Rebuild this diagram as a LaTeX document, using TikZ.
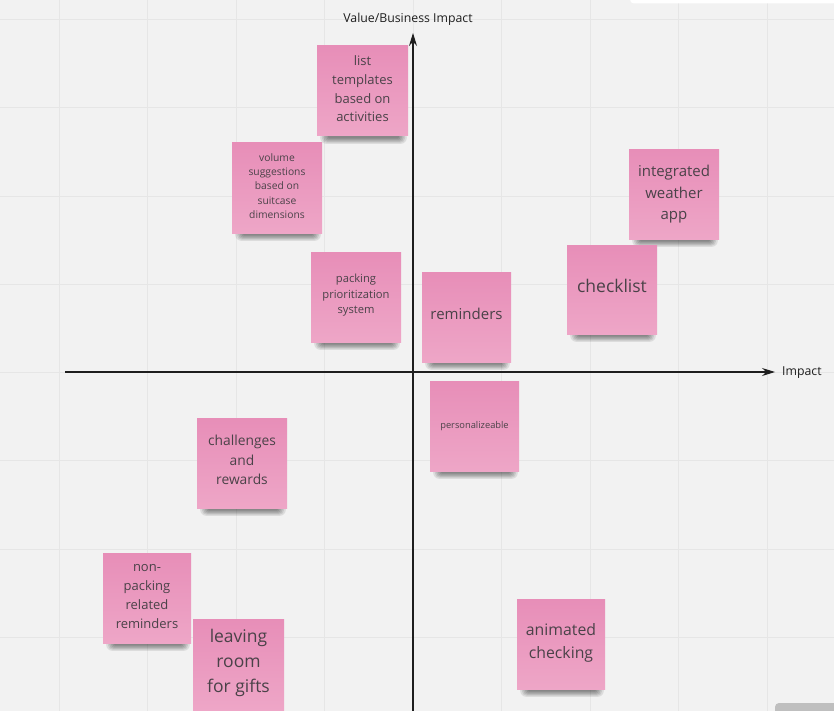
\documentclass[tikz,border=0pt]{standalone}
\usepackage{fontspec}
\newfontfamily\osans{Open Sans}
\usetikzlibrary{arrows.meta}
\pgfdeclarelayer{bottom}
\pgfdeclarelayer{shadow}
\pgfsetlayers{bottom,shadow,main}
\definecolor{bg}{HTML}{F2F2F2}
\definecolor{gridc}{HTML}{E6E6E6}
\definecolor{notetop}{HTML}{E78EB8}
\definecolor{notebot}{HTML}{EEA6C7}
\definecolor{notetext}{HTML}{4A4248}
\definecolor{axisc}{HTML}{1E1E1E}
\tikzset{
  stickynote/.style={rectangle, inner sep=0pt, top color=notetop, bottom color=notebot},
  notelabel/.style={inner sep=0pt, text=notetext, align=center},
  axisline/.style={draw=axisc, line width=1.1pt, -{Stealth[length=13pt,width=8pt]}},
  axislabel/.style={text=axisc, font=\osans\fontsize{12.3}{15}\selectfont, inner sep=0pt},
}
\newcommand\fs[2]{\osans\fontsize{#1}{#2}\selectfont}
\begin{document}
\begin{tikzpicture}[x=1pt,y=-1pt]
\useasboundingbox (0,0) rectangle (834,711);
\begin{pgfonlayer}{bottom}
\fill[bg] (0,0) rectangle (834,711);
\foreach \gx in {59,147.5,236,324.5,413,501.5,590,678.5,767}
  \draw[gridc, line width=0.8pt] (\gx,0) -- (\gx,711);
\foreach \gy in {19,107.5,196,284.5,372,460.5,549,637.5}
  \draw[gridc, line width=0.8pt] (0,\gy) -- (834,\gy);
\fill[white, rounded corners=4pt] (630,-6) rectangle (840,3.5);
\fill[black!25, rounded corners=4pt] (775,703) rectangle (840,716);
\end{pgfonlayer}

% axes
\coordinate (ybot) at (413,711);
\coordinate (ytop) at (413,33);
\coordinate (xleft) at (65,372);
\coordinate (xright) at (775,372);
\draw[axisline] (ybot) -- (ytop);
\draw[axisline] (xleft) -- (xright);
\node[axislabel, anchor=center] (ylab) at (408,19) {Value/Business Impact};
\node[axislabel, anchor=west] (xlab) at (782,372.5) {Impact};

% sticky notes
\node[stickynote, minimum width=91pt, minimum height=90pt] (lt) at (362.5,91) {};
\node[notelabel, font=\fs{13}{18.6}] (lt-t) at ([yshift=2pt]lt.center) {list\\templates\\based on\\activities};
\node[stickynote, minimum width=90pt, minimum height=90pt] (vs) at (277,188) {};
\node[notelabel, font=\fs{10.3}{14.3}] (vs-t) at ([yshift=2pt]vs.center) {volume\\suggestions\\based on\\suitcase\\dimensions};
\node[stickynote, minimum width=90pt, minimum height=89pt] (iw) at (674,194.5) {};
\node[notelabel, font=\fs{15}{21.5}] (iw-t) at ([yshift=0pt]iw.center) {integrated\\weather\\app};
\node[stickynote, minimum width=90pt, minimum height=89pt] (cl) at (612,289.5) {};
\node[notelabel, font=\fs{17.5}{22}] (cl-t) at ([yshift=3.5pt]cl.center) {checklist};
\node[stickynote, minimum width=90pt, minimum height=90pt] (pp) at (356,297) {};
\node[notelabel, font=\fs{11.2}{15.5}] (pp-t) at ([yshift=1.5pt]pp.center) {packing\\prioritization\\system};
\node[stickynote, minimum width=89pt, minimum height=90pt] (rm) at (466.5,317) {};
\node[notelabel, font=\fs{15}{20}] (rm-t) at ([yshift=3pt]rm.center) {reminders};
\node[stickynote, minimum width=89pt, minimum height=90pt] (pz) at (474.5,426) {};
\node[notelabel, font=\fs{9.3}{12}] (pz-t) at ([yshift=0pt]pz.center) {personalizeable};
\node[stickynote, minimum width=90pt, minimum height=90pt] (cr) at (242,463) {};
\node[notelabel, font=\fs{13.8}{19.5}] (cr-t) at ([yshift=3pt]cr.center) {challenges\\and\\rewards};
\node[stickynote, minimum width=88pt, minimum height=90pt] (np) at (147,598) {};
\node[notelabel, font=\fs{13}{19}] (np-t) at ([yshift=1pt]np.center) {non-\\packing\\related\\reminders};
\node[stickynote, minimum width=91pt, minimum height=91pt] (lr) at (238.5,664.5) {};
\node[notelabel, font=\fs{17.5}{25}] (lr-t) at ([yshift=2pt]lr.center) {leaving\\room\\for gifts};
\node[stickynote, minimum width=88pt, minimum height=90pt] (ac) at (561,644) {};
\node[notelabel, font=\fs{15.8}{23}] (ac-t) at ([yshift=1pt]ac.center) {animated\\checking};

% shadows
\begin{pgfonlayer}{shadow}
\foreach \n in {lt,vs,iw,cl,pp,rm,pz,cr,np,lr,ac}{
  \foreach \k in {1,...,6}{
    \fill[black, opacity=0.09, rounded corners=\k pt]
      ([xshift={13pt-1.6pt*\k}, yshift={-1pt-1.1pt*\k}]\n.south west)
      rectangle ([xshift={-(11pt-1.6pt*\k)}, yshift={1pt+0.6pt*\k}]\n.south east);
  }
}
\end{pgfonlayer}
\end{tikzpicture}
\end{document}
